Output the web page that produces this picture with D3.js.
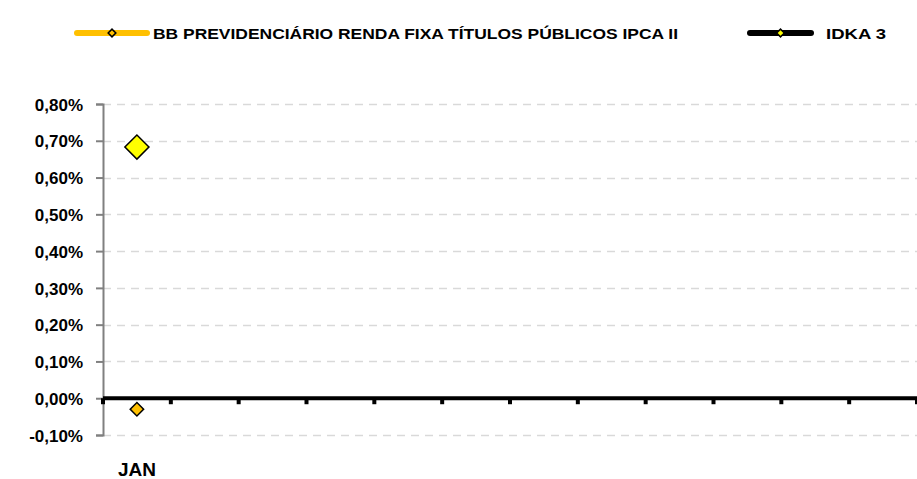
<!DOCTYPE html>
<html>
<head>
<meta charset="utf-8">
<script src="https://cdn.jsdelivr.net/npm/d3@7"></script>
<style>
  body { margin: 0; background: #fff; }
  text { font-family: "Liberation Sans", Arial, sans-serif; font-weight: bold; fill: #000; }
</style>
</head>
<body>
<div id="chart"></div>
<script>
// Data
var months = ["JAN", "FEV", "MAR", "ABR", "MAI", "JUN", "JUL", "AGO", "SET", "OUT", "NOV", "DEZ"];
var monthLabels = ["JAN", "", "", "", "", "", "", "", "", "", "", ""];
var bbValues = [-0.03, null, null, null, null, null, null, null, null, null, null, null];
var idkaValues = [0.683, null, null, null, null, null, null, null, null, null, null, null];
var yTicks = [-0.10, 0, 0.10, 0.20, 0.30, 0.40, 0.50, 0.60, 0.70, 0.80];
var seriesNames = ["BB PREVIDENCIÁRIO RENDA FIXA TÍTULOS PÚBLICOS IPCA II", "IDKA 3"];

var svgWidth = 917;
var svgHeight = 479;

var margin = { top: 104, right: 0, bottom: 44, left: 103 };
var chartWidth = svgWidth - margin.left - margin.right;
var chartHeight = svgHeight - margin.top - margin.bottom;

var svg = d3.select("#chart")
  .append("svg")
  .attr("width", svgWidth)
  .attr("height", svgHeight);

var chartGroup = svg.append("g")
  .attr("transform", `translate(${margin.left}, ${margin.top})`);

// Scales
var xScale = d3.scaleBand()
  .domain(months)
  .range([0, chartWidth]);

var yScale = d3.scaleLinear()
  .domain([-0.10, 0.80])
  .range([chartHeight, 0]);

// Gridlines
chartGroup.selectAll("line.grid")
  .data(yTicks)
  .enter().append("line")
  .attr("class", "grid")
  .attr("x1", 0)
  .attr("x2", chartWidth)
  .attr("y1", d => Math.round(yScale(d)) + 0.5)
  .attr("y2", d => Math.round(yScale(d)) + 0.5)
  .attr("stroke", "#d9d9d9")
  .attr("stroke-width", 1.5)
  .attr("stroke-dasharray", "8,6");

// Y axis
var leftAxis = d3.axisLeft(yScale)
  .tickValues(yTicks)
  .tickSize(7)
  .tickPadding(13)
  .tickFormat(d => d3.format(".2f")(d).replace("−", "-").replace(".", ",") + "%");

var yAxisG = chartGroup.append("g").call(leftAxis);
yAxisG.select(".domain").attr("stroke", "#808080").attr("stroke-width", 2);
yAxisG.selectAll(".tick line").attr("stroke", "#808080").attr("stroke-width", 2);
yAxisG.selectAll(".tick text")
  .style("font-size", "17px")
  .attr("dy", "0.36em");

// X axis at zero
var xAxisG = chartGroup.append("g")
  .attr("transform", `translate(0, ${yScale(0)})`);

xAxisG.append("line")
  .attr("x1", 0)
  .attr("x2", chartWidth)
  .attr("stroke", "#000")
  .attr("stroke-width", 4);

var boundaries = d3.range(months.length + 1).map(i => i * xScale.step());
xAxisG.selectAll("rect.xtick")
  .data(boundaries)
  .enter().append("rect")
  .attr("class", "xtick")
  .attr("x", d => d - 2)
  .attr("y", 0)
  .attr("width", 4)
  .attr("height", 6)
  .attr("fill", "#000");

// Month labels
chartGroup.selectAll("text.month")
  .data(months)
  .enter().append("text")
  .attr("class", "month")
  .attr("x", d => xScale(d) + xScale.bandwidth() / 2)
  .attr("y", chartHeight + 41)
  .attr("text-anchor", "middle")
  .style("font-size", "19px")
  .text((d, i) => monthLabels[i]);

// Diamond helper
function diamond(size) {
  return d3.symbol().type(d3.symbolSquare).size(size)();
}

// IDKA 3 markers
chartGroup.selectAll("path.idka")
  .data(idkaValues.map((v, i) => ({ m: months[i], v: v })).filter(d => d.v !== null))
  .enter().append("path")
  .attr("class", "idka")
  .attr("d", diamond(290))
  .attr("transform", d => `translate(${xScale(d.m) + xScale.bandwidth() / 2}, ${yScale(d.v)}) rotate(45)`)
  .attr("fill", "#ffff00")
  .attr("stroke", "#000")
  .attr("stroke-width", 1.5);

// BB markers
chartGroup.selectAll("path.bb")
  .data(bbValues.map((v, i) => ({ m: months[i], v: v })).filter(d => d.v !== null))
  .enter().append("path")
  .attr("class", "bb")
  .attr("d", diamond(90))
  .attr("transform", d => `translate(${xScale(d.m) + xScale.bandwidth() / 2}, ${yScale(d.v)}) rotate(45)`)
  .attr("fill", "#ffc000")
  .attr("stroke", "#000")
  .attr("stroke-width", 1.5);

// Legend
var legend = svg.append("g");

var legendItems = [
  { name: seriesNames[0], x1: 77, x2: 147, color: "#ffc000", fill: "#ffc000", tx: 153, tw: 525 },
  { name: seriesNames[1], x1: 750, x2: 811, color: "#000", fill: "#ffff00", tx: 826, tw: 60 }
];

legendItems.forEach(function(item) {
  legend.append("line")
    .attr("x1", item.x1)
    .attr("x2", item.x2)
    .attr("y1", 33)
    .attr("y2", 33)
    .attr("stroke", item.color)
    .attr("stroke-width", 6)
    .attr("stroke-linecap", "round");
  legend.append("path")
    .attr("d", diamond(30))
    .attr("transform", `translate(${(item.x1 + item.x2) / 2}, 33) rotate(45)`)
    .attr("fill", item.fill)
    .attr("stroke", "#000")
    .attr("stroke-width", 1.5);
  legend.append("text")
    .attr("x", item.tx)
    .attr("y", 38.5)
    .attr("textLength", item.tw)
    .attr("lengthAdjust", "spacingAndGlyphs")
    .style("font-size", "15px")
    .text(item.name);
});
</script>
</body>
</html>
